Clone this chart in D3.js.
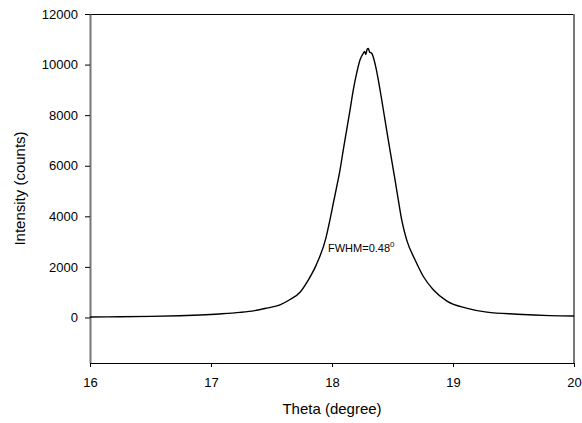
<!DOCTYPE html>
<html>
<head>
<meta charset="utf-8">
<script src="https://cdn.jsdelivr.net/npm/d3@7"></script>
<style>
  body { margin: 0; background: #fff; }
  text { font-family: "Liberation Sans", Arial, sans-serif; fill: #000; }
</style>
</head>
<body>
<div id="chart-area"></div>
<script>
// values
var theta = [16.000, 16.250, 16.500, 16.740, 16.910, 17.070, 17.240, 17.360, 17.460, 17.570,
             17.650, 17.736, 17.800, 17.870, 17.950, 17.983, 18.011, 18.039, 18.066, 18.093,
             18.121, 18.149, 18.176, 18.204, 18.231, 18.259, 18.270, 18.280, 18.290, 18.300,
             18.310, 18.328, 18.355, 18.383, 18.411, 18.438, 18.465, 18.493, 18.521, 18.548,
             18.576, 18.617, 18.686, 18.755, 18.837, 18.950, 19.110, 19.280, 19.530, 19.800,
             20.000];
var intensity = [20, 30, 45, 70, 100, 140, 200, 270, 370, 500,
                 700, 1000, 1450, 2080, 3150, 3860, 4520, 5170, 5830, 6620,
                 7410, 8200, 9000, 9660, 10180, 10450, 10520, 10400, 10600, 10640,
                 10500, 10450, 10050, 9390, 8600, 7810, 7020, 6230, 5440, 4650,
                 3860, 3070, 2280, 1620, 1100, 650, 370, 210, 130, 75,
                 60];
var xTicks = [16, 17, 18, 19, 20];
var yTicks = [0, 2000, 4000, 6000, 8000, 10000, 12000];

var W = 582, H = 423;
var plotL = 90, plotR = 574, plotT = 14, plotB = 363;

var svg = d3.select("#chart-area").append("svg")
     .attr("width", W)
     .attr("height", H);

var x = d3.scaleLinear().domain([16, 20]).range([plotL, plotR]);
var y = d3.scaleLinear().domain([-1800, 12000]).range([plotB, plotT]);

// frame: top line + grey-ish verticals
svg.append("line")
     .attr("x1", plotL).attr("x2", plotR)
     .attr("y1", plotT + 0.5).attr("y2", plotT + 0.5)
     .attr("stroke", "#000");
svg.append("line")
     .attr("x1", plotR).attr("x2", plotR)
     .attr("y1", plotT).attr("y2", plotB)
     .attr("stroke", "#777").attr("stroke-width", 2);

var yAxis = svg.append("g")
     .attr("transform", "translate(" + plotL + ",0)")
     .call(d3.axisLeft(y).tickValues(yTicks).tickFormat(d3.format("d"))
          .tickSize(5).tickPadding(7).tickSizeOuter(0));
yAxis.select(".domain").attr("stroke", "#777").attr("stroke-width", 2);
yAxis.selectAll("text").style("font-size", "13px");

var xAxis = svg.append("g")
     .attr("transform", "translate(0," + plotB + ")")
     .call(d3.axisBottom(x).tickValues(xTicks).tickFormat(d3.format("d"))
          .tickSize(4).tickPadding(11).tickSizeOuter(0));
xAxis.selectAll("text").style("font-size", "13px");

// the peak
var line = d3.line()
     .x((d, i) => { return x(theta[i]); })
     .y((d) => { return y(d); })
     .curve(d3.curveMonotoneX);

svg.append("path")
     .datum(intensity)
     .attr("d", line)
     .attr("fill", "none")
     .attr("stroke", "#000")
     .attr("stroke-width", 1.4)
     .attr("stroke-linejoin", "round");

// annotation
var ann = svg.append("text")
     .attr("x", 328)
     .attr("y", 252)
     .style("font-size", "11px");
ann.append("tspan").text("FWHM=0.48");
ann.append("tspan")
     .attr("dy", -5)
     .style("font-size", "8px")
     .text("0");

// axis titles
svg.append("text")
     .attr("x", (plotL + plotR) / 2)
     .attr("y", 414)
     .attr("text-anchor", "middle")
     .style("font-size", "15px")
     .text("Theta (degree)");

svg.append("text")
     .attr("transform", "translate(25," + ((plotT + plotB) / 2) + ") rotate(-90)")
     .attr("text-anchor", "middle")
     .style("font-size", "15px")
     .text("Intensity (counts)");
</script>
</body>
</html>
